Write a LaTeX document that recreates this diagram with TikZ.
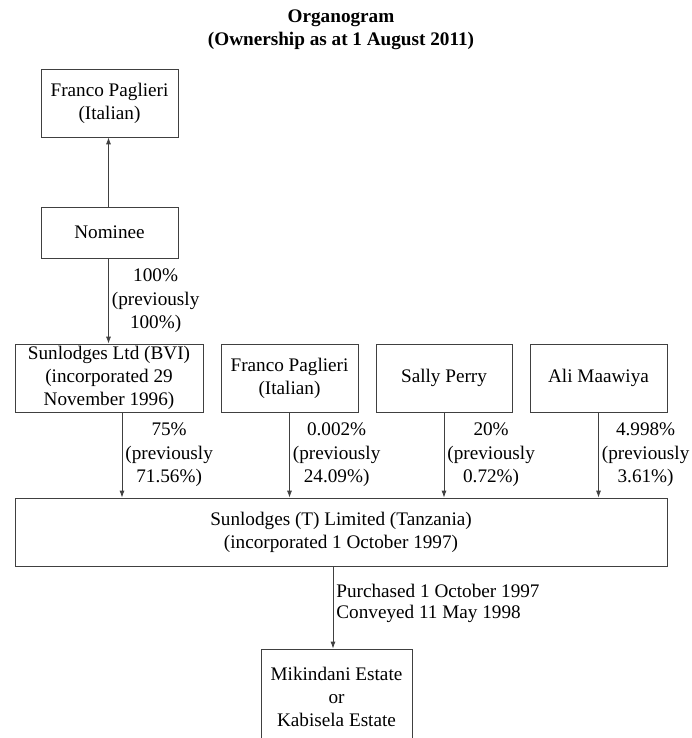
\documentclass[tikz,border=0pt]{standalone}
\usepackage{fontspec}
\setmainfont{Liberation Serif}
\usepackage{tikz}
\usetikzlibrary{arrows.meta}

\begin{document}
\begin{tikzpicture}[x=1pt, y=-1pt,
    box/.style={draw=black!75, line width=0.8pt, align=center, inner sep=2pt,
      font=\fontsize{19.2}{23}\selectfont},
    lbl/.style={align=center, inner sep=3pt, font=\fontsize{19.2}{23.5}\selectfont},
    arr/.style={-{Latex[length=7pt, width=5pt]}, draw=black!75, line width=0.8pt}]

      \useasboundingbox (0, 0) rectangle (691, 738);

      \node[align=center, font=\fontsize{19.2}{23}\selectfont\bfseries] (title) at (341, 29.5)
        {Organogram\\(Ownership as at 1 August 2011)};

      \node[box, minimum width=137, minimum height=68] (franco) at (109.5, 103)
        {Franco Paglieri\\(Italian)};
      \node[box, minimum width=137, minimum height=51] (nominee) at (109.5, 232.5)
        {Nominee};

      \node[box, minimum width=188, minimum height=68] (bvi) at (109, 378)
        {Sunlodges Ltd (BVI)\\(incorporated 29\\November 1996)};
      \node[box, minimum width=137, minimum height=68] (franco2) at (289.5, 378)
        {Franco Paglieri\\(Italian)};
      \node[box, minimum width=136, minimum height=68] (sally) at (444, 378)
        {Sally Perry};
      \node[box, minimum width=137, minimum height=68] (ali) at (598.5, 378)
        {Ali Maawiya};

      \node[box, minimum width=652, minimum height=68] (tz) at (341, 532)
        {Sunlodges (T) Limited (Tanzania)\\(incorporated 1 October 1997)};

      \node[box, minimum width=151, minimum height=96] (estate) at (336.5, 697)
        {Mikindani Estate\\or\\Kabisela Estate};

      \draw[arr] ([xshift=-1pt]nominee.north) -- ([xshift=-1pt]franco.south);
      \draw[arr] ([xshift=-1pt]nominee.south) -- ([xshift=-1pt]nominee.south |- bvi.north)
        node[lbl, midway, right]{100\%\\(previously\\100\%)};

      \draw[arr] ([xshift=13pt]bvi.south) -- ([xshift=13pt]bvi.south |- tz.north)
        node[lbl, midway, right]{75\%\\(previously\\71.56\%)};
      \draw[arr] (franco2.south) -- (franco2.south |- tz.north)
        node[lbl, midway, right]{0.002\%\\(previously\\24.09\%)};
      \draw[arr] (sally.south) -- (sally.south |- tz.north)
        node[lbl, midway, right]{20\%\\(previously\\0.72\%)};
      \draw[arr] (ali.south) -- (ali.south |- tz.north)
        node[lbl, midway, right]{4.998\%\\(previously\\3.61\%)};

      \draw[arr] ([xshift=-8pt]tz.south) -- ([xshift=-8pt]tz.south |- estate.north)
        node[lbl, align=left, midway, right, yshift=4pt, font=\fontsize{19.2}{21}\selectfont]
        {Purchased 1 October 1997\\Conveyed 11 May 1998};

    \end{tikzpicture}
\end{document}
